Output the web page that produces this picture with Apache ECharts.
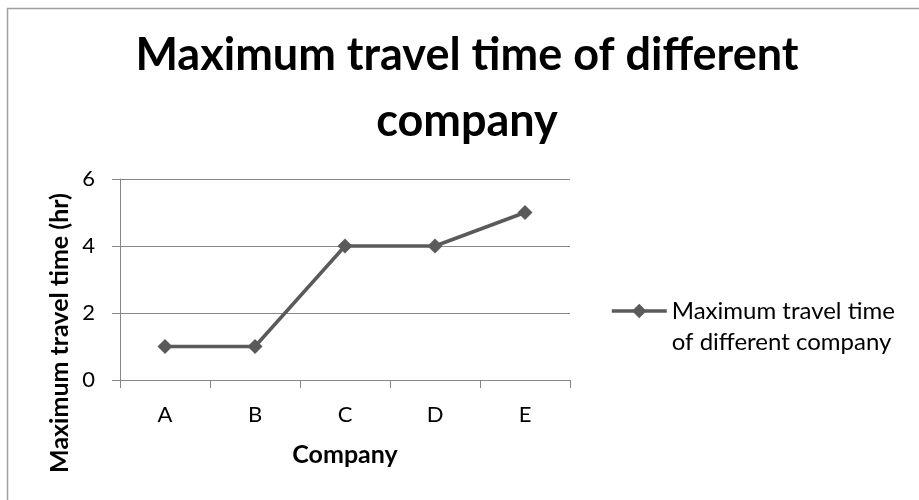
<!DOCTYPE html>
<html>
<head>
<meta charset="utf-8">
<script src="https://cdn.jsdelivr.net/npm/echarts@6/dist/echarts.min.js"></script>
<style>
  html, body { margin: 0; padding: 0; background: #fff; }
  #chart { width: 919px; height: 500px; }
</style>
</head>
<body>
<div id="chart"></div>
<script>
// Chart content
const chartTitle = 'Maximum travel time of different\ncompany';
const categories = ['A', 'B', 'C', 'D', 'E'];
const seriesName = 'Maximum travel time of different company';
const legendLines = ['Maximum travel time', 'of different company'];
const travelHours = [1, 1, 4, 4, 5];
const yTicks = { min: 0, max: 6, interval: 2 };
const xAxisTitle = 'Company';
const yAxisTitle = 'Maximum travel time (hr)';

const FONT = 'Lato, "Open Sans", sans-serif';
const AXIS_GRAY = '#868686';
const LINE_GRAY = '#5a5a5a';
const LEGEND_LINE_H = 31;

const chart = echarts.init(document.getElementById('chart'), null, { renderer: 'canvas' });

chart.setOption({
  backgroundColor: '#ffffff',
  animation: false,
  title: {
    text: chartTitle,
    left: 467,
    top: 22,
    padding: 0,
    textAlign: 'center',
    textStyle: {
      fontFamily: FONT,
      fontWeight: 'bold',
      fontSize: 45,
      lineHeight: 66,
      color: '#000'
    }
  },
  grid: {
    left: 120,
    top: 179,
    right: 349,
    bottom: 120,
    containLabel: false
  },
  legend: {
    left: 610,
    // three text rows (a blank one first) so the marker sits on the first line
    top: 311 - LEGEND_LINE_H * 1.5,
    padding: 0,
    orient: 'vertical',
    itemWidth: 55,
    itemHeight: 18,
    itemGap: 0,
    selectedMode: false,
    data: [seriesName],
    lineStyle: { width: 3.5, color: LINE_GRAY },
    itemStyle: { color: LINE_GRAY },
    formatter: function () {
      return '\n' + legendLines.join('\n');
    },
    textStyle: {
      fontFamily: FONT,
      fontSize: 24,
      lineHeight: LEGEND_LINE_H,
      color: '#000'
    }
  },
  xAxis: {
    type: 'category',
    data: categories,
    boundaryGap: true,
    name: xAxisTitle,
    nameLocation: 'middle',
    nameGap: 62,
    nameTextStyle: {
      fontFamily: FONT,
      fontWeight: 'bold',
      fontSize: 25,
      color: '#000'
    },
    axisLine: { show: true, lineStyle: { color: AXIS_GRAY, width: 1 } },
    axisTick: { show: true, length: 8, alignWithLabel: false, lineStyle: { color: AXIS_GRAY } },
    axisLabel: {
      margin: 24,
      fontFamily: FONT,
      fontSize: 22,
      color: '#000'
    },
    splitLine: { show: false }
  },
  yAxis: {
    type: 'value',
    min: yTicks.min,
    max: yTicks.max,
    interval: yTicks.interval,
    axisLine: { show: true, lineStyle: { color: AXIS_GRAY, width: 1 } },
    axisTick: { show: true, length: 8, lineStyle: { color: AXIS_GRAY } },
    axisLabel: {
      margin: 25,
      fontFamily: FONT,
      fontSize: 22,
      color: '#000'
    },
    splitLine: { show: true, lineStyle: { color: AXIS_GRAY, width: 1 } }
  },
  series: [{
    name: seriesName,
    type: 'line',
    data: travelHours,
    symbol: 'diamond',
    symbolSize: 15,
    lineStyle: { color: LINE_GRAY, width: 3.5 },
    itemStyle: { color: LINE_GRAY },
    emphasis: { disabled: true }
  }],
  graphic: [
    {
      // chart frame (its right and bottom edges fall outside the canvas)
      type: 'rect',
      silent: true,
      shape: { x: 7.5, y: 8.5, width: 1000, height: 600 },
      style: { fill: null, stroke: '#a0a0a0', lineWidth: 1.5 }
    },
    {
      type: 'text',
      silent: true,
      x: 60,
      y: 333,
      rotation: Math.PI / 2,
      style: {
        text: yAxisTitle,
        fontFamily: FONT,
        fontWeight: 'bold',
        fontSize: 25,
        fill: '#000',
        align: 'center',
        verticalAlign: 'middle'
      }
    }
  ]
});
</script>
</body>
</html>
